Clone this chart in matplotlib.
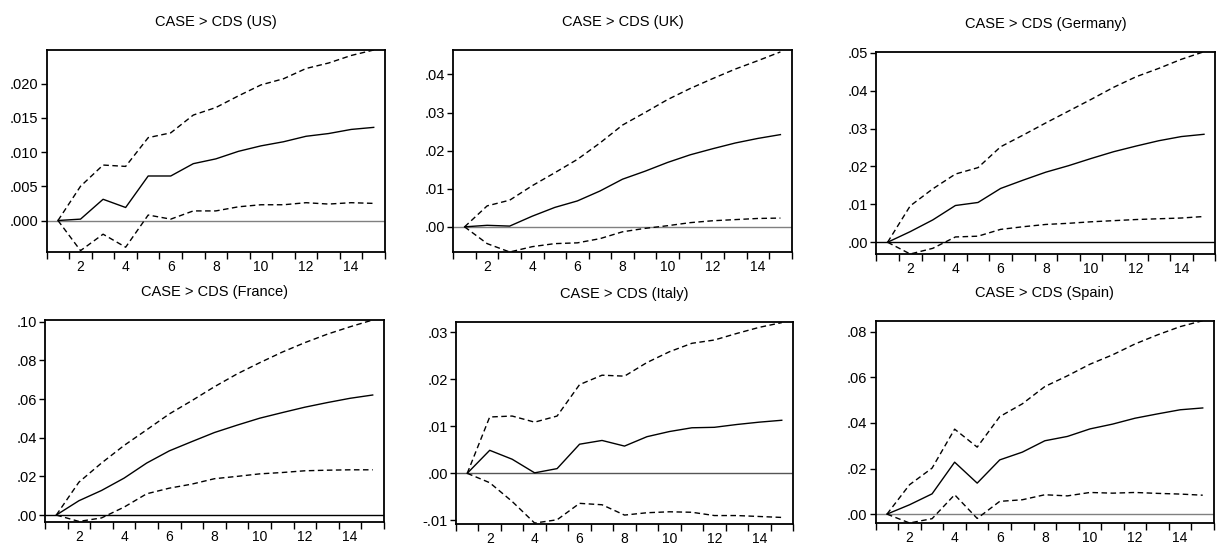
import matplotlib
matplotlib.use("Agg")
import matplotlib.pyplot as plt
from matplotlib.ticker import FixedLocator, FuncFormatter

plt.rcParams['font.family'] = ['Liberation Sans', 'DejaVu Sans']

periods = list(range(1, 16))

titles = ["CASE > CDS (US)", "CASE > CDS (UK)", "CASE > CDS (Germany)",
          "CASE > CDS (France)", "CASE > CDS (Italy)", "CASE > CDS (Spain)"]

us_resp = [0, 0.0002, 0.0031, 0.0019, 0.0065, 0.0065, 0.0083, 0.0090, 0.0101, 0.0109, 0.0115, 0.0123, 0.0127, 0.0133, 0.0136]
us_up   = [0, 0.0050, 0.0081, 0.0079, 0.0121, 0.0128, 0.0154, 0.0165, 0.0182, 0.0198, 0.0207, 0.0222, 0.0230, 0.0241, 0.0249]
us_lo   = [0, -0.0044, -0.0020, -0.0039, 0.0008, 0.0002, 0.0014, 0.0014, 0.0020, 0.0023, 0.0023, 0.0026, 0.0024, 0.0026, 0.0025]

uk_resp = [0, 0.0004, 0.0002, 0.0028, 0.0051, 0.0068, 0.0094, 0.0125, 0.0146, 0.0169, 0.0189, 0.0205, 0.0220, 0.0232, 0.0242]
uk_up   = [0, 0.0055, 0.0070, 0.0108, 0.0142, 0.0177, 0.0220, 0.0267, 0.0300, 0.0334, 0.0363, 0.0389, 0.0414, 0.0436, 0.0459]
uk_lo   = [0, -0.0044, -0.0066, -0.0052, -0.0044, -0.0042, -0.0031, -0.0013, -0.0004, 0.0003, 0.0011, 0.0016, 0.0019, 0.0022, 0.0023]

de_resp = [0, 0.0028, 0.0059, 0.0097, 0.0105, 0.0142, 0.0164, 0.0185, 0.0202, 0.0221, 0.0239, 0.0254, 0.0268, 0.0279, 0.0285]
de_up   = [0, 0.0096, 0.0141, 0.0180, 0.0197, 0.0252, 0.0283, 0.0315, 0.0346, 0.0377, 0.0409, 0.0437, 0.0459, 0.0483, 0.0503]
de_lo   = [0, -0.0031, -0.0016, 0.0014, 0.0016, 0.0034, 0.0041, 0.0047, 0.0050, 0.0054, 0.0057, 0.0060, 0.0062, 0.0064, 0.0068]

fr_resp = [0, 0.0074, 0.0127, 0.0191, 0.0269, 0.0332, 0.0380, 0.0427, 0.0465, 0.0501, 0.0530, 0.0558, 0.0582, 0.0604, 0.0621]
fr_up   = [0, 0.0170, 0.0269, 0.0360, 0.0441, 0.0523, 0.0592, 0.0664, 0.0730, 0.0788, 0.0843, 0.0892, 0.0936, 0.0974, 0.1009]
fr_lo   = [0, -0.0033, -0.0015, 0.0041, 0.0110, 0.0139, 0.0160, 0.0188, 0.0200, 0.0213, 0.0220, 0.0229, 0.0232, 0.0234, 0.0234]

it_resp = [0, 0.0049, 0.0030, 0.0001, 0.0010, 0.0062, 0.0070, 0.0058, 0.0078, 0.0089, 0.0097, 0.0098, 0.0104, 0.0109, 0.0113]
it_up   = [0, 0.0120, 0.0122, 0.0109, 0.0122, 0.0189, 0.0209, 0.0207, 0.0236, 0.0259, 0.0277, 0.0284, 0.0298, 0.0311, 0.0321]
it_lo   = [0, -0.0020, -0.0060, -0.0106, -0.0099, -0.0064, -0.0067, -0.0089, -0.0084, -0.0082, -0.0083, -0.0090, -0.0090, -0.0092, -0.0094]

es_resp = [0, 0.0041, 0.0089, 0.0228, 0.0136, 0.0238, 0.0272, 0.0322, 0.0341, 0.0374, 0.0395, 0.0421, 0.0440, 0.0458, 0.0466]
es_up   = [0, 0.0129, 0.0202, 0.0373, 0.0294, 0.0428, 0.0484, 0.0560, 0.0607, 0.0658, 0.0699, 0.0747, 0.0787, 0.0823, 0.0849]
es_lo   = [0, -0.0039, -0.0020, 0.0085, -0.0019, 0.0056, 0.0063, 0.0085, 0.0080, 0.0095, 0.0092, 0.0095, 0.0091, 0.0088, 0.0083]

responses = [us_resp, uk_resp, de_resp, fr_resp, it_resp, es_resp]
uppers = [us_up, uk_up, de_up, fr_up, it_up, es_up]
lowers = [us_lo, uk_lo, de_lo, fr_lo, it_lo, es_lo]

y_ticks = [
    [0.000, 0.005, 0.010, 0.015, 0.020],
    [0.00, 0.01, 0.02, 0.03, 0.04],
    [0.00, 0.01, 0.02, 0.03, 0.04, 0.05],
    [0.00, 0.02, 0.04, 0.06, 0.08, 0.10],
    [-0.01, 0.00, 0.01, 0.02, 0.03],
    [0.00, 0.02, 0.04, 0.06, 0.08],
]
y_decimals = [3, 2, 2, 2, 2, 2]
y_limits = [(-0.0046, 0.0249), (-0.0066, 0.0464), (-0.0031, 0.0503),
            (-0.0036, 0.1009), (-0.0108, 0.0323), (-0.0039, 0.0849)]
x_labels = [2, 4, 6, 8, 10, 12, 14]

W, H = 1218, 546
# axes boxes in pixels: left, top, right, bottom
boxes = [(46.7, 50, 385, 252), (453.3, 50, 791.7, 252), (876.3, 51.7, 1215.3, 254),
         (45, 320, 384, 522), (456, 321.7, 793, 524), (875.7, 320.7, 1214, 523)]
zero_colors = ['#808080', '#808080', '#000000', '#000000', '#555555', '#808080']

fig = plt.figure(figsize=(W / 100, H / 100), dpi=100)
FS = 10.5
FSX = 10

def make_fmt(dec):
    def f(v, pos):
        s = f"{v:.{dec}f}"
        if s.startswith("0"):
            s = s[1:]
        elif s.startswith("-0"):
            s = "-" + s[2:]
        return s
    return f

for i in range(6):
    l, t, r, b = boxes[i]
    ax = fig.add_axes([l / W, 1 - b / H, (r - l) / W, (b - t) / H])
    ax.axhline(0, color=zero_colors[i], lw=1.0, zorder=1)
    ax.plot(periods, uppers[i], color='black', lw=1.0, linestyle=(0, (4, 2.5)), zorder=2)
    ax.plot(periods, lowers[i], color='black', lw=1.0, linestyle=(0, (4, 2.5)), zorder=2)
    ax.plot(periods, responses[i], color='black', lw=1.0, zorder=3)
    ax.set_xlim(0.5, 15.5)
    ax.set_ylim(*y_limits[i])
    ax.xaxis.set_major_locator(FixedLocator(x_labels))
    ax.xaxis.set_minor_locator(FixedLocator([p - 0.5 for p in periods] + [15.5]))
    ax.tick_params(axis='x', which='major', length=0, pad=5.5, labelsize=FSX)
    ax.tick_params(axis='x', which='minor', length=5, width=1.0, direction='out')
    ax.yaxis.set_major_locator(FixedLocator(y_ticks[i]))
    ax.yaxis.set_major_formatter(FuncFormatter(make_fmt(y_decimals[i])))
    ax.tick_params(axis='y', which='major', length=4, width=1.0, direction='out', pad=2, labelsize=FS)
    for sp in ax.spines.values():
        sp.set_linewidth(1.3)
    ax.set_title(titles[i], fontsize=FS, pad=17)

fig.savefig("out.png", dpi=100)
